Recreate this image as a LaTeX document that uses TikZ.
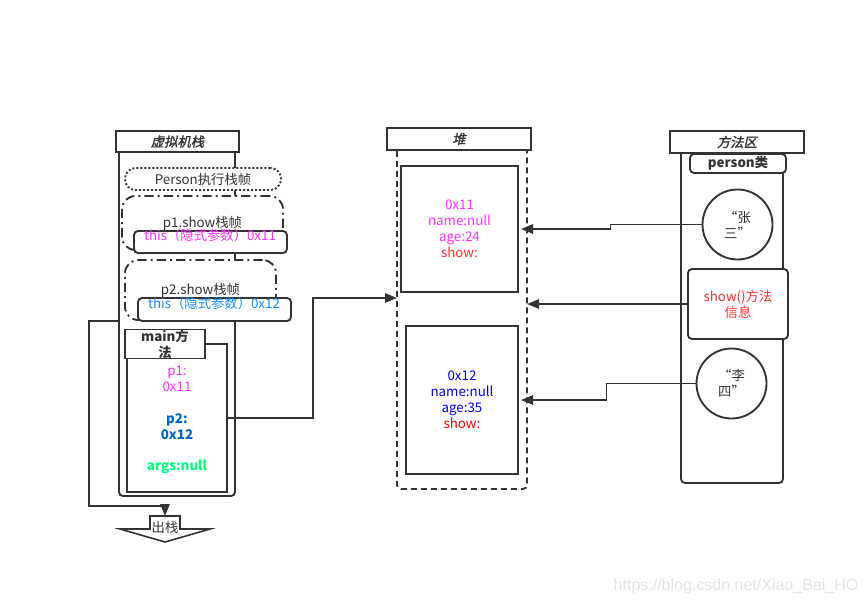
\documentclass[tikz,border=0pt]{standalone}
\usepackage{fontspec}
\setmainfont{Noto Sans CJK SC}
\newfontfamily\titlefont[FakeSlant=0.2,FakeBold=1.5]{Noto Sans CJK SC}
\newfontfamily\markfont{Liberation Sans}
\usetikzlibrary{calc,positioning,arrows.meta}
\definecolor{linegray}{HTML}{333333}
\definecolor{thismag}{HTML}{FF33FF}
\definecolor{thisblue}{HTML}{1A8CFF}
\definecolor{ptwoblue}{HTML}{0066CC}
\definecolor{argsgreen}{HTML}{00FF80}
\definecolor{showred}{HTML}{FF3333}
\definecolor{markgray}{HTML}{E4E4E4}

\begin{document}
\begin{tikzpicture}[
	x=0.75pt, y=-0.75pt,
	line width=1.4pt,
	every node/.style={inner sep=0pt, outer sep=0pt, text=linegray, align=center},
	boxsize/.style 2 args={minimum width=#1*0.75pt, minimum height=#2*0.75pt},
	titlebox/.style={draw=linegray, fill=white, font=\titlefont},
	area/.style={draw=linegray, fill=white, rounded corners=3pt},
	heaparea/.style={area, dash pattern=on 4.5pt off 3pt},
	plainbox/.style={draw=linegray, fill=white},
	smallbox/.style={draw=linegray, fill=white, rounded corners=3pt},
	dotframe/.style={draw=linegray, fill=white, rounded corners=8pt, dash pattern=on 1.5pt off 1.5pt},
	dashframe/.style={draw=linegray, fill=white, rounded corners=10pt, dash pattern=on 7pt off 3pt on 1.5pt off 3pt},
	obj/.style={circle, draw=linegray, fill=white, minimum size=70*0.75pt},
	conn/.style={draw=linegray, -{Triangle[length=9pt,width=7pt]}}
	]
    \useasboundingbox (0,0) rectangle (867,604);

    % vm stack
    \node[area, boxsize={116}{351}] at (177,320.5) (stackbody) {};
    \node[titlebox, boxsize={123}{21}] at (177.5,141.5) (stacktitle) {虚拟机栈};
    \node[dotframe, boxsize={156}{22}] at (203,179) (personframe) {Person执行栈帧};
    \node[dashframe, boxsize={161}{54}] at (202.5,223) (p1frame) {p1.show栈帧};
    \node[smallbox, boxsize={153}{22}] at (210.5,242) (this1) {};
    \node[text=thismag] at (210,235) (this1txt) {this（隐式参数）0x11};
    \node[dashframe, boxsize={151}{60}] at (200.5,290) (p2frame) {p2.show栈帧};
    \node[smallbox, boxsize={153}{23}] at (214.5,309.5) (this2) {};
    \node[text=thisblue] at (214,303) (this2txt) {this（隐式参数）0x12};
    % main
    \node[plainbox, boxsize={100}{148}] at (177,418) (mainbody) {};
    \node[plainbox, boxsize={80}{20}, font=\bfseries] at (165,344) (maintitle) {main方\\法};
    \node[text=thismag] at (177,379) (mainp1) {p1:\\0x11};
    \node[text=ptwoblue, font=\bfseries] at (177,427) (mainp2) {p2:\\0x12};
    \node[text=argsgreen, font=\bfseries] at (177,467) (mainargs) {args:null};
    % pop
    \draw[draw=linegray, fill=white, line width=1.2pt] (150,516) -- (180,516) -- (180,529) -- (210,529)
        -- (165,542) -- (120,529) -- (150,529) -- cycle;
    \node at (165,527) (pop) {出栈};
    \coordinate (popfrom) at (119,321);
    \coordinate (poptop) at (165,516);
    \draw[conn] (popfrom) -- ++(-30,0) -- ++(0,185) -| (poptop);

    % heap
    \node[heaparea, boxsize={130}{344}] at (462,317) (heapbody) {};
    \node[titlebox, boxsize={144}{22}] at (459,139) (heaptitle) {堆};
    \node[plainbox, boxsize={117}{126}, text=thismag] at (459.5,229) (obj1)
        {0x11\\name:null\\age:24\\\textcolor{showred}{show:}};
    \node[plainbox, boxsize={112}{148}, text=blue] at (462,400) (obj2)
        {0x12\\name:null\\age:35\\\textcolor{red}{show:}};
    \coordinate (heapin) at (397,298);
    \draw[conn] (mainbody.east) -- ++(86,0) |- (heapin);

    % method area
    \node[area, boxsize={102}{335}] at (732,315.5) (methodbody) {};
    \node[titlebox, boxsize={134}{22}] at (737,142) (methodtitle) {方法区};
    \node[smallbox, boxsize={96}{19}, font=\bfseries] at (738,163.5) (personclass) {person类};
    \node[obj] at (737.5,224.5) (zs) {“张\\三”};
    \node[smallbox, boxsize={100}{70}, text=showred] at (738,304) (info) {show()方法\\信息};
    \node[obj] at (731.5,383.5) (ls) {“李\\四”};
    \draw[conn] (zs.west) -- ++(-92,0) |- ($(obj1.east)+(3,0)$);
    \draw[conn] (info.west) -- (info.west -| heapbody.east);
    \draw[conn] (ls.west) -- ++(-90,0) |- ($(obj2.east)+(3,0)$);

    \node[text=markgray, font=\markfont\fontsize{12}{14}\selectfont] at (736,586) (mark) {https://blog.csdn.net/Xiao\_Bai\_HO};
\end{tikzpicture}
\end{document}
